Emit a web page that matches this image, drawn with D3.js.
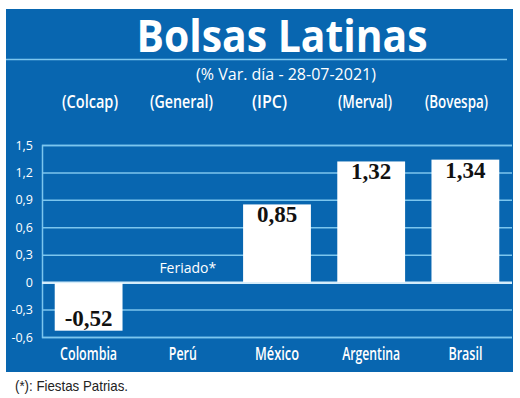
<!DOCTYPE html>
<html><head><meta charset="utf-8">
<script src="https://cdn.jsdelivr.net/npm/d3@7"></script>
<style>body{margin:0;background:#fff}svg{display:block}</style>
</head><body>
<script>
const countries = ["Colombia","Perú","México","Argentina","Brasil"];
const indices = ["(Colcap)","(General)","(IPC)","(Merval)","(Bovespa)"];
const values = [-0.52, null, 0.85, 1.32, 1.34];
const valueLabels = ["-0,52", "", "0,85", "1,32", "1,34"];
const yTicks = [-0.6,-0.3,0,0.3,0.6,0.9,1.2,1.5];
const yTickLabels = ["-0,6","-0,3","0","0,3","0,6","0,9","1,2","1,5"];
const title = "Bolsas Latinas";
const subtitle = "(% Var. día - 28-07-2021)";
const note = "Feriado*";
const footnote = "(*): Fiestas Patrias.";

const W=520,H=398;
const svg=d3.select("body").append("svg").attr("width",W).attr("height",H);
const blue="#0866b0", grid="#7cc6ee";
svg.append("rect").attr("x",6).attr("y",9).attr("width",507).attr("height",363).attr("fill",blue);

svg.append("text").attr("x",282).attr("y",52).attr("text-anchor","middle")
  .attr("fill","#fff").attr("font-family","Open Sans").attr("font-weight","bold")
  .attr("font-size",45).attr("textLength",291).attr("lengthAdjust","spacingAndGlyphs").text(title);
svg.append("line").attr("x1",6).attr("x2",507).attr("y1",59.5).attr("y2",59.5).attr("stroke",grid).attr("stroke-width",1.5);
svg.append("text").attr("x",286).attr("y",80).attr("text-anchor","middle")
  .attr("fill","#fff").attr("font-family","Open Sans").attr("font-size",16).text(subtitle);

const x=d3.scaleBand().domain(countries).range([42,512]).paddingInner(0.28).paddingOuter(0.135);
const y=d3.scaleLinear().domain([-0.6,1.5]).range([337,145]);

const idxX=[90,181.5,269.5,365,456.5];
const idxW=[56,63,35,54,63];
svg.append("g").selectAll("text").data(indices).join("text")
  .attr("x",(d,i)=>idxX[i]).attr("y",108).attr("text-anchor","middle")
  .attr("fill","#fff").attr("font-family","Open Sans").attr("font-weight",600).attr("font-size",18)
  .attr("textLength",(d,i)=>idxW[i]).attr("lengthAdjust","spacingAndGlyphs")
  .text(d=>d);

// gridlines
const yAxis=d3.axisLeft(y).tickValues(yTicks).tickSize(-(512-42)).tickFormat((d,i)=>yTickLabels[i]);
const ga=svg.append("g").attr("transform","translate(42,0)").call(yAxis);
ga.select(".domain").attr("stroke",grid).attr("stroke-width",1.5);
ga.selectAll(".tick line").attr("stroke",grid).attr("stroke-width",1.5);
ga.selectAll(".tick text").attr("fill","#fff").attr("font-family","Open Sans").attr("font-size",12.5).attr("x",-9);
ga.selectAll(".tick").filter(d=>d===0).select("line").attr("stroke","#d4ecfa").attr("stroke-width",2.5);

const data=countries.map((c,i)=>({c,v:values[i],l:valueLabels[i]})).filter(d=>d.v!==null);
svg.append("g").selectAll("rect").data(data).join("rect")
  .attr("x",d=>x(d.c)).attr("width",x.bandwidth())
  .attr("y",d=>y(Math.max(0,d.v))+(d.v<0?1:0)).attr("height",d=>Math.abs(y(d.v)-y(0)))
  .attr("fill","#fff");
svg.append("g").selectAll("text").data(data).join("text")
  .attr("x",d=>x(d.c)+x.bandwidth()/2).attr("y",d=>d.v<0?y(d.v)-4:y(d.v)+18)
  .attr("text-anchor","middle").attr("fill","#111").attr("font-family","Liberation Serif")
  .attr("font-weight","bold").attr("font-size",23).text(d=>d.l);

svg.append("text").attr("x",x("Perú")+x.bandwidth()/2+5).attr("y",273).attr("text-anchor","middle")
  .attr("fill","#fff").attr("font-family","Open Sans").attr("font-size",14).text(note);

const catW=[57,28,44,58,34];
svg.append("g").selectAll("text").data(countries).join("text")
  .attr("x",d=>x(d)+x.bandwidth()/2).attr("y",360).attr("text-anchor","middle")
  .attr("fill","#fff").attr("font-family","Open Sans").attr("font-weight",600).attr("font-size",18)
  .attr("textLength",(d,i)=>catW[i]).attr("lengthAdjust","spacingAndGlyphs")
  .text(d=>d);

svg.append("text").attr("x",15).attr("y",391).attr("fill","#222")
  .attr("font-family","Liberation Sans").attr("font-size",15)
  .attr("textLength",113).attr("lengthAdjust","spacingAndGlyphs").text(footnote);
</script>
</body></html>
